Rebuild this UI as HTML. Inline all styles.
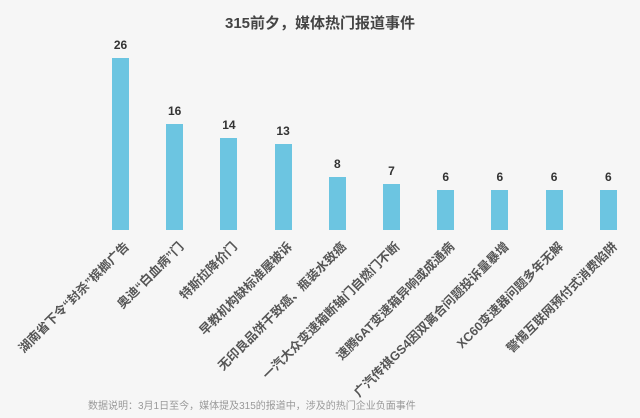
<!DOCTYPE html>
<html><head><meta charset="utf-8"><style>
html,body{margin:0;padding:0}
body{width:640px;height:418px;background:#f6f6f6;position:relative;overflow:hidden;font-family:"Liberation Sans","Noto Sans CJK SC",sans-serif}
.t{position:absolute;left:0;width:640px;top:12px;text-align:center;font-size:15px;font-weight:bold;color:#444}
.b{position:absolute;width:17px;background:#6cc5e1}
.v{position:absolute;width:40px;text-align:center;font-size:12px;font-weight:bold;color:#333}
.l{position:absolute;white-space:nowrap;font-size:12.5px;font-weight:bold;color:#555;transform-origin:100% 50%;transform:rotate(-45deg)}
.f{position:absolute;left:88px;top:397px;font-size:10px;color:#999}
</style></head><body>
<div class="t">315前夕，媒体热门报道事件</div>
<script>
var d=[["湖南省下令“封杀”槟榔广告",26],["奥迪“白血病”门",16],["特斯拉降价门",14],["早教机构缺标准屡被诉",13],["无印良品饼干致癌、瓶装水致癌",8],["一汽大众变速箱断轴门自燃门不断",7],["速腾6AT变速箱异响或成通病",6],["广汽传祺GS4因双离合问题投诉量暴增",6],["XC60变速器问题多年无解",6],["警惕互联网预付式消费陷阱",6]];
var h="";
d.forEach(function(e,i){var x=112+54.2*i,top=230-e[1]*6.6;
h+='<div class="b" style="left:'+x+'px;top:'+top+'px;height:'+(230-top)+'px"></div>';
h+='<div class="v" style="left:'+(x-11.5)+'px;top:'+(top-20)+'px">'+e[1]+'</div>';
h+='<div class="l" style="right:'+(640-x-14)+'px;top:234px">'+e[0]+'</div>';});
document.write(h);
</script>
<div class="f">数据说明：3月1日至今，媒体提及315的报道中，涉及的热门企业负面事件</div>
</body></html>
